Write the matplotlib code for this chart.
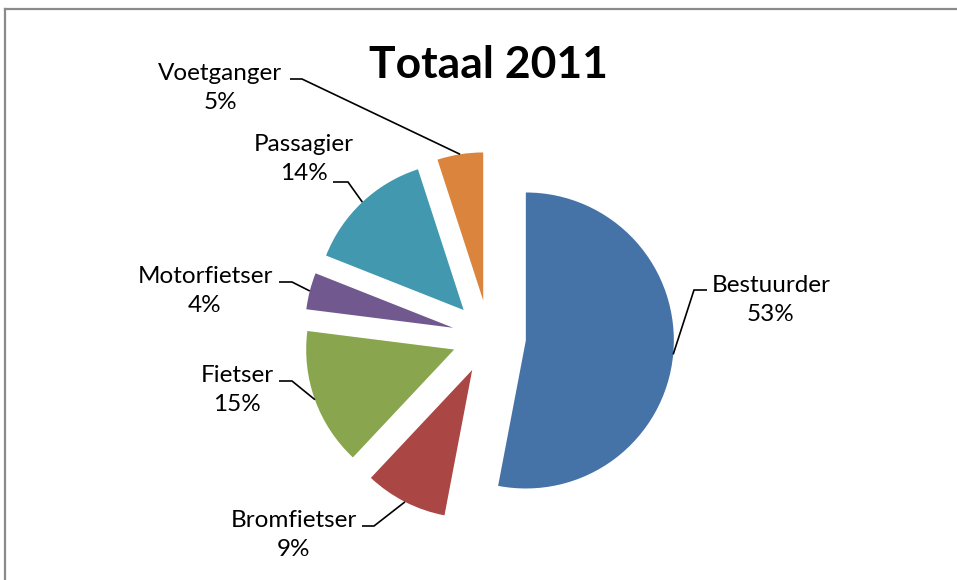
import matplotlib
matplotlib.use("Agg")
import matplotlib.pyplot as plt
import numpy as np
from matplotlib.lines import Line2D

categories = ["Bestuurder", "Bromfietser", "Fietser", "Motorfietser", "Passagier", "Voetganger"]
values = [53, 9, 15, 4, 14, 5]
colors = ["#4572A7", "#AA4643", "#89A54E", "#71588F", "#4198AF", "#DB843D"]
title = "Totaal 2011"

W, H = 957, 580
CX, CY, R = 489, 337, 148  # pie centre / radius in pixels (layout)

# label layout in pixels: text centre, and the horizontal leader segment (start x, elbow x)
label_pos = {
    "Bestuurder": (771, 300, 707, 694),
    "Bromfietser": (294, 535, 362, 374),
    "Fietser": (237, 390, 279, 292),
    "Motorfietser": (205, 291, 279, 292),
    "Passagier": (304, 159, 333, 348),
    "Voetganger": (220, 88, 290, 302),
}
leader_y = {"Bestuurder": 290, "Bromfietser": 526, "Fietser": 381,
            "Motorfietser": 282, "Passagier": 182, "Voetganger": 79}

plt.rcParams['font.family'] = ['Lato', 'DejaVu Sans']

fig = plt.figure(figsize=(W / 100, H / 100), dpi=100)
ax = fig.add_axes([0, 0, 1, 1])

wedges, _ = ax.pie(values, colors=colors, startangle=90, counterclock=False,
                   explode=[0.25] * len(values), radius=1.0,
                   wedgeprops=dict(linewidth=0))

ax.set_xlim(-CX / R, (W - CX) / R)
ax.set_ylim((CY - H) / R, CY / R)
ax.set_aspect('equal')
ax.axis('off')

def d(px, py):
    return (px - CX) / R, (CY - py) / R

total = sum(values)
for w, cat, v in zip(wedges, categories, values):
    mid = np.deg2rad((w.theta1 + w.theta2) / 2)
    cx, cy = w.center
    ax_, ay_ = cx + w.r * np.cos(mid), cy + w.r * np.sin(mid)
    tx, ty, hx0, hx1 = label_pos[cat]
    ly = leader_y[cat]
    p0 = d(hx0, ly)
    p1 = d(hx1, ly)
    ax.plot([p0[0], p1[0], ax_], [p0[1], p1[1], ay_], color='black', lw=1.2,
            solid_capstyle='butt', solid_joinstyle='miter')
    t = d(tx, ty)
    ax.text(t[0], t[1], f"{cat}\n{round(v / total * 100)}%", ha='center', va='center',
            fontsize=17.5, linespacing=1.45, color='black')

tt = d(488, 78)
ax.text(tt[0], tt[1], title, ha='center', va='baseline', fontsize=32, fontweight='bold')

# chart border (left and top visible)
fig.add_artist(Line2D([4.5 / W, 4.5 / W], [0, 1 - 8.5 / H], color='#8a8a8a', lw=1.6))
fig.add_artist(Line2D([4.5 / W, 1], [1 - 8.5 / H, 1 - 8.5 / H], color='#8a8a8a', lw=1.6))

fig.savefig("out.png", dpi=100)
